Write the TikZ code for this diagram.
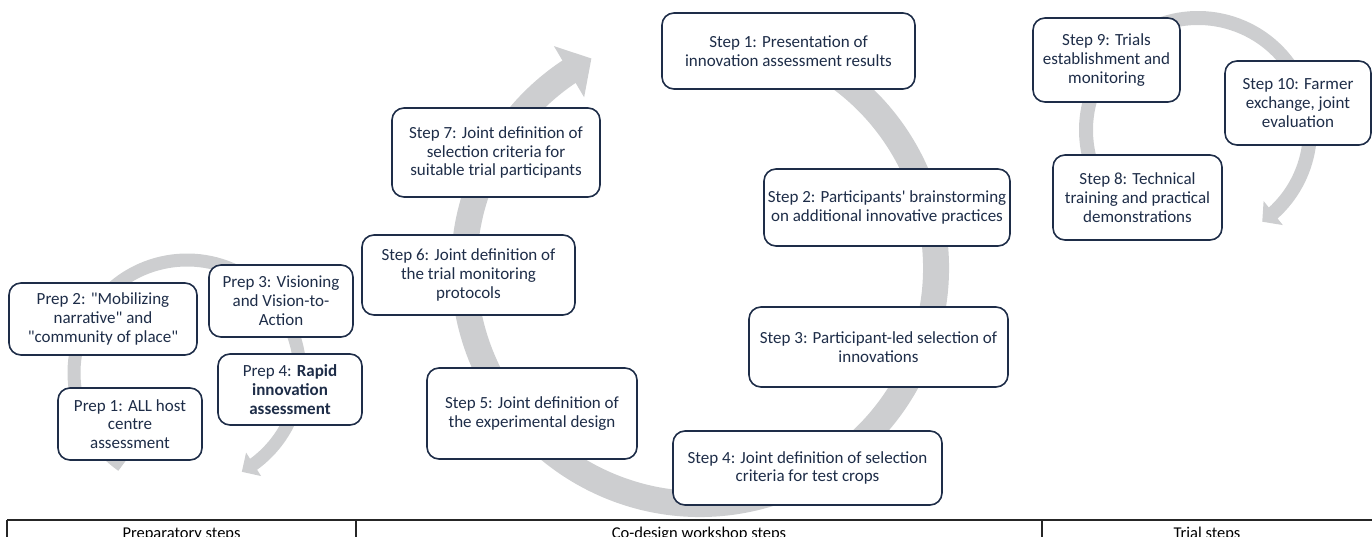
\documentclass[tikz,border=0pt]{standalone}
\usepackage{fontspec}
\setmainfont{Carlito}[Ligatures=TeXOff]
\usetikzlibrary{arrows.meta,bending}
\definecolor{ringgray}{RGB}{205,206,208}
\definecolor{navy}{RGB}{30,45,72}
\begin{document}
\begin{tikzpicture}[x=1pt,y=-1pt,
  stepbox/.style={draw=navy, line width=1.6pt, fill=white, rounded corners=12pt,
    align=center, text=navy, inner sep=0pt, font=\fontsize{17}{18.8}\selectfont},
  ringline/.style={draw=ringgray, line cap=butt},
  tablabel/.style={anchor=base, text=black, font=\fontsize{16.5}{18.5}\selectfont},
  tabline/.style={draw=black!85, line width=1.1pt}
]
\useasboundingbox (0,0) rectangle (1372,537);

% ---- gray circular arrows ----
\draw[ringline, line width=13pt, -{Triangle[width=27pt,length=14pt]}]
  (187,373) ++(125:113) arc[start angle=125, end angle=421, radius=113];
\draw[ringline, line width=26pt, -{Triangle[width=58pt,length=26pt]}]
  (700,268) ++(295:236) arc[start angle=295, end angle=602.6, radius=236];
\draw[ringline, line width=14pt, -{Triangle[width=30pt,length=14pt]}]
  (1198,130) ++(150:112) arc[start angle=150, end angle=415, radius=112];

% ---- preparatory steps ----
\node[stepbox, minimum width=188pt, minimum height=72pt] (p2) at (103,319)
  {Prep 2: "Mobilizing\\narrative" and\\"community of place"};
\node[stepbox, minimum width=144pt, minimum height=72pt] (p3) at (281,301)
  {Prep 3: Visioning\\and Vision-to-\\Action};
\node[stepbox, minimum width=144pt, minimum height=71pt] (p4) at (290,389.5)
  {Prep 4: \textbf{Rapid}\\\textbf{innovation}\\\textbf{assessment}};
\node[stepbox, minimum width=144pt, minimum height=72pt] (p1) at (130,424)
  {Prep 1: ALL host\\centre\\assessment};

% ---- co-design workshop steps ----
\node[stepbox, minimum width=208pt, minimum height=89pt] (s7) at (496,152.5)
  {Step 7: Joint definition of\\selection criteria for\\suitable trial participants};
\node[stepbox, minimum width=213pt, minimum height=80pt] (s6) at (468.5,275)
  {Step 6: Joint definition of\\the trial monitoring\\protocols};
\node[stepbox, minimum width=210pt, minimum height=91pt] (s5) at (532,413.5)
  {Step 5: Joint definition of\\the experimental design};
\node[stepbox, minimum width=253pt, minimum height=76pt] (s1) at (788.5,51)
  {Step 1: Presentation of\\innovation assessment results};
\node[stepbox, minimum width=246pt, minimum height=77pt] (s2) at (887,207.5)
  {Step 2: Participants' brainstorming\\on additional innovative practices};
\node[stepbox, minimum width=259pt, minimum height=80pt] (s3) at (878.5,347)
  {Step 3: Participant-led selection of\\innovations};
\node[stepbox, minimum width=269pt, minimum height=74pt] (s4) at (807.5,468)
  {Step 4: Joint definition of selection\\criteria for test crops};

% ---- trial steps ----
\node[stepbox, minimum width=147pt, minimum height=84pt] (s9) at (1106.5,60)
  {Step 9: Trials\\establishment and\\monitoring};
\node[stepbox, minimum width=146pt, minimum height=84pt] (s10) at (1298,103)
  {Step 10: Farmer\\exchange, joint\\evaluation};
\node[stepbox, minimum width=169pt, minimum height=85pt] (s8) at (1137.5,197.5)
  {Step 8: Technical\\training and practical\\demonstrations};

% ---- table at bottom ----
\draw[tabline] (7,520) -- (1372,520);
\draw[tabline] (7,520) -- (7,540);
\draw[tabline] (356,520) -- (356,540);
\draw[tabline] (1042,520) -- (1042,540);
\node[tablabel] (t1) at (181.5,538) {Preparatory steps};
\node[tablabel] (t2) at (699,538) {Co-design workshop steps};
\node[tablabel] (t3) at (1207,538) {Trial steps};
\end{tikzpicture}
\end{document}
